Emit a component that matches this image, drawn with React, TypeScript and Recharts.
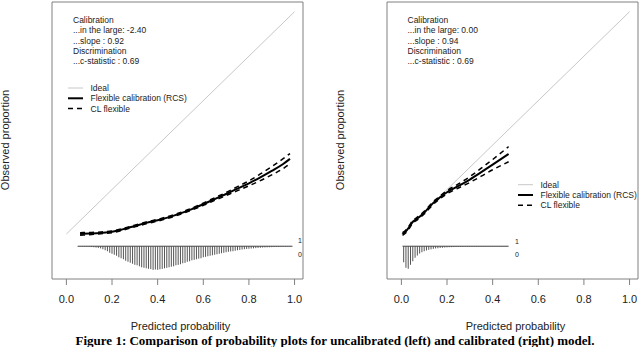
import React from "react";
import { ComposedChart, Line, XAxis, YAxis, ReferenceArea } from "recharts";

// ---------- data ----------
const xTicks = [0, 0.2, 0.4, 0.6, 0.8, 1.0];

const leftPred = [0.06, 0.1, 0.15, 0.2, 0.25, 0.3, 0.35, 0.4, 0.45, 0.5, 0.55, 0.6, 0.65, 0.7, 0.75, 0.8, 0.85, 0.9, 0.95, 0.98];
const leftObs = [0.0, 0.002, 0.005, 0.01, 0.022, 0.036, 0.05, 0.062, 0.076, 0.093, 0.112, 0.134, 0.157, 0.18, 0.204, 0.228, 0.255, 0.284, 0.315, 0.338];
const leftLower = [-0.006, -0.003, 0.001, 0.006, 0.018, 0.032, 0.046, 0.058, 0.072, 0.089, 0.108, 0.129, 0.151, 0.173, 0.195, 0.217, 0.24, 0.266, 0.294, 0.316];
const leftUpper = [0.006, 0.007, 0.009, 0.014, 0.026, 0.04, 0.054, 0.066, 0.08, 0.097, 0.116, 0.139, 0.163, 0.187, 0.213, 0.239, 0.27, 0.303, 0.339, 0.362];

const rightPred = [0.005, 0.02, 0.035, 0.05, 0.065, 0.08, 0.1, 0.12, 0.14, 0.17, 0.2, 0.25, 0.3, 0.35, 0.4, 0.47];
const rightObs = [0.0, 0.012, 0.032, 0.055, 0.066, 0.078, 0.096, 0.118, 0.14, 0.165, 0.188, 0.216, 0.245, 0.278, 0.312, 0.36];
const rightLower = [-0.006, 0.006, 0.026, 0.049, 0.06, 0.072, 0.09, 0.112, 0.134, 0.159, 0.181, 0.207, 0.232, 0.26, 0.289, 0.325];
const rightUpper = [0.006, 0.018, 0.038, 0.061, 0.072, 0.084, 0.102, 0.124, 0.146, 0.171, 0.195, 0.225, 0.258, 0.296, 0.335, 0.393];

// histogram of outcome 0 (bin centres and counts)
const leftBins = [
  0.05, 0.06, 0.07, 0.08, 0.09, 0.1, 0.11, 0.12, 0.13, 0.14, 0.15, 0.16, 0.17, 0.18, 0.19, 0.2,
  0.21, 0.22, 0.23, 0.24, 0.25, 0.26, 0.27, 0.28, 0.29, 0.3, 0.31, 0.32, 0.33, 0.34, 0.35, 0.36,
  0.37, 0.38, 0.39, 0.4, 0.41, 0.42, 0.43, 0.44, 0.45, 0.46, 0.47, 0.48, 0.49, 0.5, 0.51, 0.52,
  0.53, 0.54, 0.55, 0.56, 0.57, 0.58, 0.59, 0.6, 0.61, 0.62, 0.63, 0.64, 0.65, 0.66, 0.67, 0.68,
  0.69, 0.7, 0.71, 0.72, 0.73, 0.74, 0.75, 0.76, 0.77, 0.78, 0.79, 0.8, 0.81, 0.82, 0.83, 0.84,
  0.85, 0.86, 0.87, 0.88, 0.89, 0.9, 0.91, 0.92, 0.93, 0.94, 0.95, 0.96, 0.97, 0.98, 0.99,
];
const leftCounts = [
  3, 3, 4, 4, 5, 6, 8, 10, 13, 17, 22, 30, 40, 50, 65, 75,
  85, 95, 110, 120, 130, 145, 155, 165, 175, 185, 190, 200, 210, 215, 220, 225,
  228, 236, 232, 235, 230, 226, 220, 216, 210, 204, 200, 190, 186, 180, 170, 166,
  155, 150, 140, 136, 130, 124, 120, 110, 106, 100, 95, 90, 85, 80, 75, 70,
  65, 60, 55, 52, 50, 45, 40, 37, 33, 30, 27, 25, 23, 21, 19, 17,
  15, 13, 12, 11, 10, 9, 8, 7, 6, 6, 5, 5, 4, 4, 3,
];

const rightBins = [
  0.01, 0.02, 0.03, 0.04, 0.05, 0.06, 0.07, 0.08, 0.09, 0.1, 0.11, 0.12, 0.13, 0.14, 0.15, 0.16,
  0.17, 0.18, 0.19, 0.2, 0.21, 0.22, 0.23, 0.24, 0.25, 0.26, 0.27, 0.28, 0.29, 0.3, 0.31, 0.32,
  0.33, 0.34, 0.35, 0.36, 0.37, 0.38, 0.39, 0.4, 0.41, 0.42, 0.43, 0.44, 0.45, 0.46,
];
const rightCounts = [
  160, 215, 225, 185, 150, 115, 93, 73, 60, 50, 42, 36, 31, 26, 22, 20,
  17, 15, 13, 11, 10, 9, 8, 7, 7, 6, 6, 5, 5, 5, 4, 4,
  4, 4, 4, 3, 3, 3, 3, 3, 3, 3, 3, 3, 3, 3,
];

const leftRange = [0.05, 0.99];
const rightRange = [0.005, 0.47];

const leftStats = ["Calibration", "...in the large: -2.40", "...slope : 0.92", "Discrimination", "...c-statistic : 0.69"];
const rightStats = ["Calibration", "...in the large: 0.00", "...slope : 0.94", "Discrimination", "...c-statistic : 0.69"];
const legendLabels = ["Ideal", "Flexible calibration (RCS)", "CL flexible"];
const xLabel = "Predicted probability";
const yLabel = "Observed proportion";
const caption = "Figure 1: Comparison of probability plots for uncalibrated (left) and calibrated (right) model.";

// ---------- helpers ----------
const X_DOMAIN: [number, number] = [-0.063, 1.037];
const Y_DOMAIN: [number, number] = [-0.2024, 1.0436];
const BASE = -0.055;
const MAX_DEPTH = 0.106;
const SANS = "'Liberation Sans', Arial, Helvetica, sans-serif";

const zip = (xs: number[], ys: number[]) => xs.map((x, i) => ({ x, y: ys[i] }));

const spikes = (bins: number[], counts: number[]) => {
  const maxC = 235;
  const out: { x: number; y: number | null }[] = [];
  bins.forEach((b, i) => {
    out.push({ x: b, y: BASE });
    out.push({ x: b, y: BASE - (counts[i] / maxC) * MAX_DEPTH });
    out.push({ x: b, y: null });
  });
  return out;
};

const ideal = [
  { x: 0, y: 0 },
  { x: 1, y: 1 },
];

type PanelProps = {
  left: number;
  width: number;
  marginLeft: number;
  marginRight: number;
  pred: number[];
  obs: number[];
  lower: number[];
  upper: number[];
  bins: number[];
  counts: number[];
  range: number[];
};

const Panel = (p: PanelProps) => {
  const baseline = [
    { x: p.range[0], y: BASE },
    { x: p.range[1], y: BASE },
  ];
  return (
    <div style={{ position: "absolute", left: p.left, top: 0 }}>
      <ComposedChart
        width={p.width}
        height={347}
        data={ideal}
        margin={{ top: 2, right: p.marginRight, bottom: 38, left: p.marginLeft }}
      >
        <XAxis
          type="number"
          dataKey="x"
          domain={X_DOMAIN}
          ticks={xTicks}
          allowDataOverflow
          height={30}
          axisLine={false}
          tickLine={{ stroke: "#808080" }}
          tickSize={6}
          tickMargin={10}
          tick={{ fill: "#222", fontSize: 11, fontFamily: SANS }}
          tickFormatter={(v: number) => v.toFixed(1)}
        />
        <YAxis type="number" dataKey="y" domain={Y_DOMAIN} allowDataOverflow hide />
        <ReferenceArea
          x1={X_DOMAIN[0]}
          x2={X_DOMAIN[1]}
          y1={Y_DOMAIN[0]}
          y2={Y_DOMAIN[1]}
          fill="none"
          stroke="#808080"
          strokeWidth={1}
          ifOverflow="visible"
        />
        <Line data={ideal} dataKey="y" stroke="#c8c8c8" strokeWidth={1} dot={false} isAnimationActive={false} />
        <Line
          data={spikes(p.bins, p.counts)}
          dataKey="y"
          stroke="#555"
          strokeWidth={1}
          dot={false}
          connectNulls={false}
          isAnimationActive={false}
        />
        <Line data={baseline} dataKey="y" stroke="#444" strokeWidth={1} dot={false} isAnimationActive={false} />
        <Line
          data={zip(p.pred, p.lower)}
          dataKey="y"
          type="monotone"
          stroke="#000"
          strokeWidth={1.5}
          strokeDasharray="5 4"
          dot={false}
          isAnimationActive={false}
        />
        <Line
          data={zip(p.pred, p.upper)}
          dataKey="y"
          type="monotone"
          stroke="#000"
          strokeWidth={1.5}
          strokeDasharray="5 4"
          dot={false}
          isAnimationActive={false}
        />
        <Line
          data={zip(p.pred, p.obs)}
          dataKey="y"
          type="monotone"
          stroke="#000"
          strokeWidth={2}
          dot={false}
          isAnimationActive={false}
        />
      </ComposedChart>
    </div>
  );
};

const Overlay = () => {
  const fs = 8.5;
  const statY = [20, 30.3, 40.6, 50.9, 61.2];
  const leg = (x0: number, y0: number, key: string) => (
    <g key={key}>
      <line x1={x0} x2={x0 + 15} y1={y0} y2={y0} stroke="#c8c8c8" strokeWidth={1} />
      <line x1={x0} x2={x0 + 15} y1={y0 + 10.3} y2={y0 + 10.3} stroke="#000" strokeWidth={2} />
      <line x1={x0} x2={x0 + 15} y1={y0 + 20.6} y2={y0 + 20.6} stroke="#000" strokeWidth={1.5} strokeDasharray="5 4" />
      {legendLabels.map((t, i) => (
        <text key={t} x={x0 + 22.5} y={y0 + i * 10.3 + 3} fontSize={fs} fill="#222" fontFamily={SANS}>
          {t}
        </text>
      ))}
    </g>
  );
  return (
    <svg
      width={640}
      height={347}
      style={{ position: "absolute", left: 0, top: 0, pointerEvents: "none" }}
    >
      {leftStats.map((t, i) => (
        <text key={"l" + i} x={73} y={statY[i] + 3} fontSize={fs} fill="#222" fontFamily={SANS}>
          {t}
        </text>
      ))}
      {rightStats.map((t, i) => (
        <text key={"r" + i} x={407.5} y={statY[i] + 3} fontSize={fs} fill="#222" fontFamily={SANS}>
          {t}
        </text>
      ))}
      {leg(68, 88, "legL")}
      {leg(518, 184.7, "legR")}
      <text x={298} y={243} fontSize={7} fill="#222" fontFamily={SANS}>1</text>
      <text x={298} y={256.5} fontSize={7} fill="#222" fontFamily={SANS}>0</text>
      <text x={515} y={243.5} fontSize={7} fill="#222" fontFamily={SANS}>1</text>
      <text x={515} y={257} fontSize={7} fill="#222" fontFamily={SANS}>0</text>
      <text x={180.5} y={329.5} fontSize={11} fill="#222" fontFamily={SANS} textAnchor="middle">
        {xLabel}
      </text>
      <text x={515.5} y={329.5} fontSize={11} fill="#222" fontFamily={SANS} textAnchor="middle">
        {xLabel}
      </text>
      <text
        x={0}
        y={0}
        fontSize={11}
        fill="#222"
        fontFamily={SANS}
        textAnchor="middle"
        transform="translate(9,140) rotate(-90)"
      >
        {yLabel}
      </text>
      <text
        x={0}
        y={0}
        fontSize={11}
        fill="#222"
        fontFamily={SANS}
        textAnchor="middle"
        transform="translate(344,140) rotate(-90)"
      >
        {yLabel}
      </text>
      <text
        x={335}
        y={345}
        fontSize={13}
        fontWeight="bold"
        fill="#000"
        fontFamily="'Liberation Serif', 'Times New Roman', serif"
        textAnchor="middle"
      >
        {caption}
      </text>
    </svg>
  );
};

export default function App() {
  return (
    <div style={{ position: "absolute", left: 0, top: 0, width: 640, height: 347, background: "#fff", overflow: "hidden" }}>
      <Panel
        left={0}
        width={320}
        marginLeft={52}
        marginRight={17}
        pred={leftPred}
        obs={leftObs}
        lower={leftLower}
        upper={leftUpper}
        bins={leftBins}
        counts={leftCounts}
        range={leftRange}
      />
      <Panel
        left={335}
        width={305}
        marginLeft={52}
        marginRight={2}
        pred={rightPred}
        obs={rightObs}
        lower={rightLower}
        upper={rightUpper}
        bins={rightBins}
        counts={rightCounts}
        range={rightRange}
      />
      <Overlay />
    </div>
  );
}
